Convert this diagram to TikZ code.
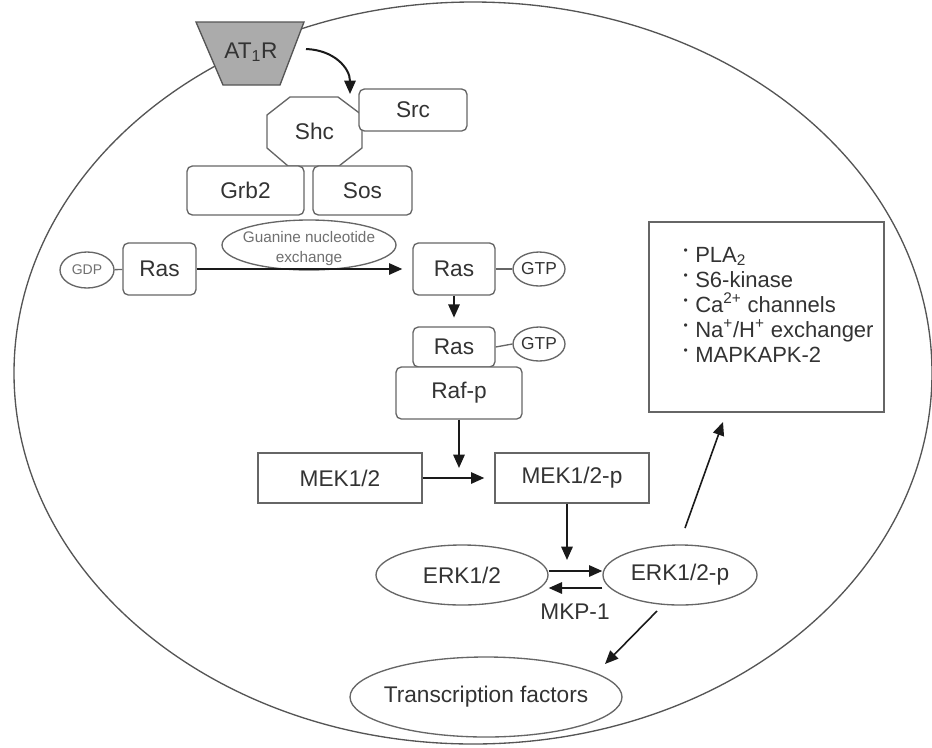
\documentclass[tikz,border=0pt]{standalone}
\usepackage{fontspec}
\setmainfont{Liberation Sans}
\usetikzlibrary{arrows.meta,shapes.geometric}
\definecolor{txt}{HTML}{333333}
\definecolor{lighttxt}{HTML}{707070}
\definecolor{edge}{HTML}{666666}
\definecolor{cellc}{HTML}{555555}
\definecolor{recfill}{HTML}{ABABAB}
\definecolor{arr}{HTML}{1A1A1A}
\newcommand{\bul}{\makebox[0pt][r]{\raisebox{6pt}{\fontsize{9}{9}\selectfont\textbullet}\hspace{5.5pt}}}
\begin{document}
\begin{tikzpicture}[x=0.75pt,y=-0.75pt,
  every node/.style={text=txt, font=\fontsize{17}{19}\selectfont},
  rbox/.style={draw=edge, line width=1pt, rounded corners=4pt, fill=white, inner sep=0pt},
  sbox/.style={draw=edge, line width=1pt, fill=white, inner sep=0pt},
  ell/.style={draw=edge, line width=1pt, ellipse, fill=white, inner sep=0pt},
  arrowline/.style={draw=arr, line width=1.5pt, -{Triangle[length=10pt,width=8.5pt]}},
  thinarrow/.style={draw=arr, line width=1.2pt, -{Triangle[length=10pt,width=8.5pt]}},
  thinline/.style={draw=edge, line width=1pt},
  listitem/.style={anchor=base west, inner sep=0pt, font=\fontsize{16.5}{18}\selectfont},
]
\useasboundingbox (0,0) rectangle (932,747);
% cell
\draw[cellc, line width=1pt] (473,373) ellipse [x radius=459, y radius=371];
% receptor
\filldraw[fill=recfill, draw=cellc, line width=1pt] (196,22) -- (304,22) -- (280,85) -- (223,85) -- cycle;
\node (at1r) at (251,52) {AT\textsubscript{1}R};
\coordinate (c1) at (306,49);
\coordinate (c2) at (350,94);
\draw[arrowline] (c1) .. controls (334,50) and (350,68) .. (c2);
% Shc octagon
\filldraw[fill=white, draw=edge, line width=1pt] (290,97) -- (338,97) -- (362,115) -- (362,148) -- (339,166) -- (288,166) -- (267,148) -- (267,115) -- cycle;
\node (shc) at (314.5,131) {Shc};
\node[rbox, minimum width=81pt, minimum height=31.5pt] (src) at (413,110) {Src};
\node[rbox, minimum width=87.75pt, minimum height=36.75pt] (grb2) at (245.5,190.5) {Grb2};
\node[rbox, minimum width=74.25pt, minimum height=36.75pt] (sos) at (362.5,190.5) {Sos};
% guanine nucleotide exchange
\node[ell, minimum width=130.5pt, minimum height=37.5pt] (gne) at (309,245) {};
\node[text=lighttxt, font=\fontsize{11.5}{15}\selectfont, align=center, inner sep=0pt] (gnetxt) at (309,249) {Guanine nucleotide\\exchange};
% Ras row
\node[ell, minimum width=40.5pt, minimum height=27pt] (gdp) at (87,270) {\makebox[0pt]{\color{lighttxt}\fontsize{10.5}{12}\selectfont GDP}};
\node[rbox, minimum width=54.75pt, minimum height=39pt] (rasL) at (159.5,269) {Ras};
\draw[thinline] (gdp) -- (rasL);
\node[rbox, minimum width=61.5pt, minimum height=39pt] (rasR) at (454,269) {Ras};
\node[ell, minimum width=39pt, minimum height=25.5pt] (gtp1) at (539,269) {\makebox[0pt]{\fontsize{13}{14}\selectfont GTP}};
\draw[thinline] (rasR) -- (gtp1);
\draw[arrowline, shorten >=7.5pt] (rasL) -- (rasR);
% Ras-Raf complex
\node[rbox, minimum width=61.5pt, minimum height=30pt] (ras2) at (454,347) {Ras};
\node[ell, minimum width=39pt, minimum height=25.5pt] (gtp2) at (539,344) {\makebox[0pt]{\fontsize{13}{14}\selectfont GTP}};
\draw[thinline] (ras2.east) -- (gtp2.west);
\node[rbox, minimum width=94.5pt, minimum height=39pt] (raf) at (459,393) {Raf-p};
\draw[arrowline, shorten >=6.5pt] (rasR.south) -- (ras2.north);
% MEK
\node[sbox, minimum width=123pt, minimum height=37.5pt] (mek) at (340,478) {MEK1/2};
\node[sbox, minimum width=115.5pt, minimum height=37.5pt] (mekp) at (572,478) {MEK1/2-p};
\coordinate (rafend) at (459,468);
\draw[arrowline] (raf.south) -- (rafend);
\draw[arrowline, shorten >=7.5pt] (mek) -- (mekp);
% ERK
\node[ell, minimum width=129pt, minimum height=45pt] (erk) at (462,575) {ERK1/2};
\node[ell, minimum width=115.5pt, minimum height=45pt] (erkp) at (680,575) {ERK1/2-p};
\coordinate (mekend) at (567,560);
\draw[arrowline] (mekp.south -| mekend) -- (mekend);
\draw[arrowline] ([yshift=3pt]erk.east) -- ([yshift=3pt]erkp.west);
\draw[arrowline] ([yshift=-9.75pt]erkp.west) -- ([yshift=-9.75pt]erk.east);
\node (mkp) at (575,612) {MKP-1};
% effector box
\node[sbox, minimum width=176.25pt, minimum height=142.5pt] (effbox) at (766.5,317) {};
\node[listitem] (l1) at (695,262) {\bul PLA\textsubscript{2}};
\node[listitem] (l2) at (695,287) {\bul S6-kinase};
\node[listitem] (l3) at (695,312) {\bul Ca\textsuperscript{2+} channels};
\node[listitem] (l4) at (695,337) {\bul Na\textsuperscript{+}/H\textsuperscript{+} exchanger};
\node[listitem] (l5) at (695,362) {\bul MAPKAPK-2};
\coordinate (upstart) at (685,528);
\coordinate (upend) at (723,422);
\draw[thinarrow] (upstart) -- (upend);
% transcription factors
\node[ell, minimum width=204pt, minimum height=60pt] (tf) at (486,697) {\makebox[0pt]{Transcription factors}};
\coordinate (dnstart) at (657,611);
\coordinate (dnend) at (605,664);
\draw[thinarrow] (dnstart) -- (dnend);
\end{tikzpicture}
\end{document}
